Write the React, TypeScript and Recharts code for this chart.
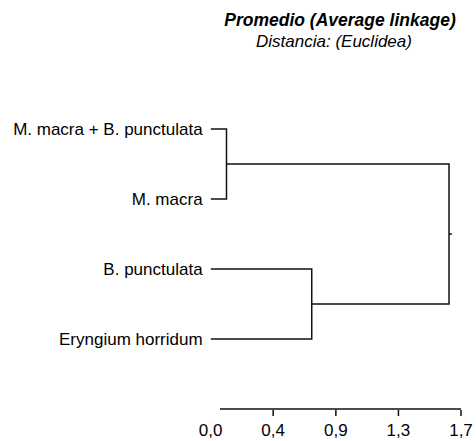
import { ComposedChart, Scatter, XAxis, YAxis, ReferenceLine } from "recharts";

// leaves, top to bottom
const LEAVES = [
  "M. macra + B. punctulata",
  "M. macra",
  "B. punctulata",
  "Eryngium horridum",
];

// merges: node ids 0..3 are leaves, merges get ids 4, 5, 6 in order
const MERGE_LEFT = [0, 2, 4];
const MERGE_RIGHT = [1, 3, 5];
const MERGE_HEIGHT = [0.11, 0.7, 1.65];

const X_TICKS = [0, 0.433, 0.867, 1.3, 1.733];
const X_MAX = 1.733;

const AXIS_START = 0.065;
const ROOT_STUB = 0.02;
const FONT = "'Liberation Sans', Arial, sans-serif";
const LINE = "#111";

// build node positions
const nodeX: number[] = LEAVES.map(() => 0);
const nodeY: number[] = LEAVES.map((_, i) => i);
MERGE_HEIGHT.forEach((h, m) => {
  nodeX.push(h);
  nodeY.push((nodeY[MERGE_LEFT[m]] + nodeY[MERGE_RIGHT[m]]) / 2);
});

// one U-shaped link per merge
const links = MERGE_HEIGHT.map((h, m) => {
  const l = MERGE_LEFT[m];
  const r = MERGE_RIGHT[m];
  return [
    { x: nodeX[l], y: nodeY[l] },
    { x: h, y: nodeY[l] },
    { x: h, y: nodeY[r] },
    { x: nodeX[r], y: nodeY[r] },
  ];
});
const root = nodeX.length - 1;
links.push([
  { x: nodeX[root], y: nodeY[root] },
  { x: nodeX[root] + ROOT_STUB, y: nodeY[root] },
]);

const fmt = (v: number) => v.toFixed(1).replace(".", ",");

const NoDot = () => <g />;

const XTick = (props: any) => {
  const { x, y, payload, index } = props;
  return (
    <g>
      {index > 0 && (
        <line x1={x} x2={x} y1={y + 1} y2={y + 7} stroke={LINE} strokeWidth={1.5} />
      )}
      <text x={x} y={y + 27} textAnchor="middle" fontSize={17} fill="#000" fontFamily={FONT}>
        {fmt(payload.value)}
      </text>
    </g>
  );
};

export default function App() {
  return (
    <div style={{ position: "absolute", left: 0, top: 0, width: 476, height: 441, background: "#fff" }}>
      <ComposedChart
        width={476}
        height={441}
        margin={{ top: 59, right: 15, left: 0, bottom: 0 }}
      >
        <XAxis
          type="number"
          dataKey="x"
          domain={[0, X_MAX]}
          ticks={X_TICKS}
          allowDataOverflow
          axisLine={false}
          tickLine={false}
          tickSize={0}
          tickMargin={0}
          height={32}
          tick={<XTick />}
          interval={0}
        />
        <YAxis
          type="number"
          dataKey="y"
          domain={[-1, 4]}
          reversed
          ticks={[0, 1, 2, 3]}
          tickFormatter={(v: number) => LEAVES[v]}
          axisLine={false}
          tickLine={false}
          tickSize={6}
          tickMargin={2}
          width={210.6}
          interval={0}
          tick={{ fontSize: 17, fill: "#000", fontFamily: FONT }}
        />
        <ReferenceLine
          segment={[
            { x: AXIS_START, y: 4 },
            { x: X_MAX, y: 4 },
          ]}
          ifOverflow="visible"
          stroke={LINE}
          strokeWidth={1.5}
        />
        {links.map((pts, i) => (
          <Scatter
            key={i}
            data={pts}
            line={{ stroke: LINE, strokeWidth: 1.5 }}
            lineType="joint"
            shape={<NoDot />}
            isAnimationActive={false}
          />
        ))}
      </ComposedChart>
      <svg
        width={476}
        height={60}
        style={{ position: "absolute", left: 0, top: 0, pointerEvents: "none" }}
      >
        <text x={340} y={26} textAnchor="middle" fontSize={17.5} fontWeight="bold" fontStyle="italic" fontFamily={FONT} fill="#000">
          Promedio (Average linkage)
        </text>
        <text x={334} y={47} textAnchor="middle" fontSize={17} fontStyle="italic" fontFamily={FONT} fill="#000">
          Distancia: (Euclidea)
        </text>
      </svg>
    </div>
  );
}
